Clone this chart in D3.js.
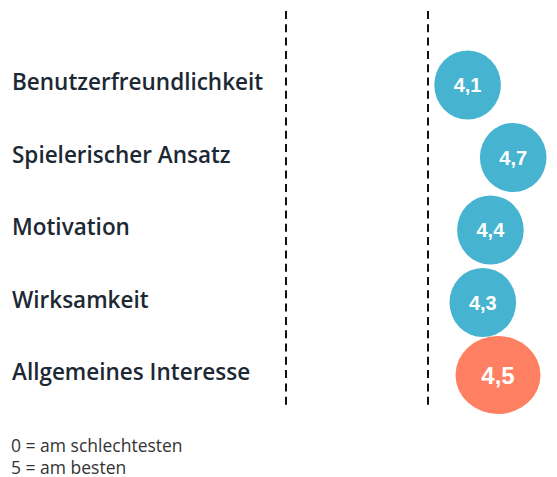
<!DOCTYPE html>
<html>
<head>
<meta charset="utf-8">
<script src="https://cdn.jsdelivr.net/npm/d3@7"></script>
<style>
  body { margin: 0; background: #fff; }
  svg { display: block; }
</style>
</head>
<body>
<svg id="chart"></svg>
<script>
// Bewertung der App, 0 = am schlechtesten, 5 = am besten
const categories = [
    "Benutzerfreundlichkeit",
    "Spielerischer Ansatz",
    "Motivation",
    "Wirksamkeit",
    "Allgemeines Interesse"
];
const values = [4.1, 4.7, 4.4, 4.3, 4.5];
const highlight = "Allgemeines Interesse";
const notes = ["0 = am schlechtesten", "5 = am besten"];

const width = 557, height = 477;
const blue = '#46b3d0', orange = '#ff7f63', textColor = '#1c2833';

const de = d3.formatLocale({decimal: ",", thousands: ".", grouping: [3], currency: ["", "€"]});
const fmt = de.format(".1f");

const svg = d3.select('#chart')
    .attr('width', width)
    .attr('height', height);

const xScale = d3.scaleLinear()
    .domain([4, 5])
    .range([460, 536]);

const yScale = d3.scalePoint()
    .domain(categories)
    .range([85, 375]);

// gestrichelte Trennlinien
svg.selectAll('.divider')
    .data([286, 428])
    .join('line')
    .attr('class', 'divider')
    .attr('x1', d => d)
    .attr('x2', d => d)
    .attr('y1', 11)
    .attr('y2', 407)
    .attr('stroke', '#111')
    .attr('stroke-width', 2)
    .attr('stroke-dasharray', '8 5.3');

// Kategorien
svg.selectAll('.label')
    .data(categories)
    .join('text')
    .attr('class', 'label')
    .attr('x', 12)
    .attr('y', d => yScale(d) + 5)
    .attr('fill', textColor)
    .style('font-family', '"Open Sans", sans-serif')
    .style('font-weight', 600)
    .style('font-size', '22.5px')
    .text(d => d);

const data = categories.map((c, i) => ({cat: c, value: values[i]}));

const dots = svg.selectAll('.dot')
    .data(data)
    .join('g')
    .attr('class', 'dot')
    .attr('transform', d => `translate(${xScale(d.value)}, ${yScale(d.cat)})`);

dots.append('ellipse')
    .attr('rx', d => d.cat === highlight ? 42.5 : 33.3)
    .attr('ry', d => d.cat === highlight ? 39 : 34.6)
    .attr('fill', d => d.cat === highlight ? orange : blue);

dots.append('text')
    .attr('text-anchor', 'middle')
    .attr('dy', '0.36em')
    .attr('fill', '#fff')
    .style('font-family', '"Liberation Sans", Arial, sans-serif')
    .style('font-weight', 'bold')
    .style('font-size', d => d.cat === highlight ? '24px' : '20px')
    .text(d => fmt(d.value));

// Legende unten
svg.selectAll('.note')
    .data(notes)
    .join('text')
    .attr('class', 'note')
    .attr('x', 11)
    .attr('y', (d, i) => 451.5 + i * 22)
    .attr('fill', '#333')
    .style('font-family', '"Open Sans", sans-serif')
    .style('font-size', '17.5px')
    .text(d => d);
</script>
</body>
</html>
